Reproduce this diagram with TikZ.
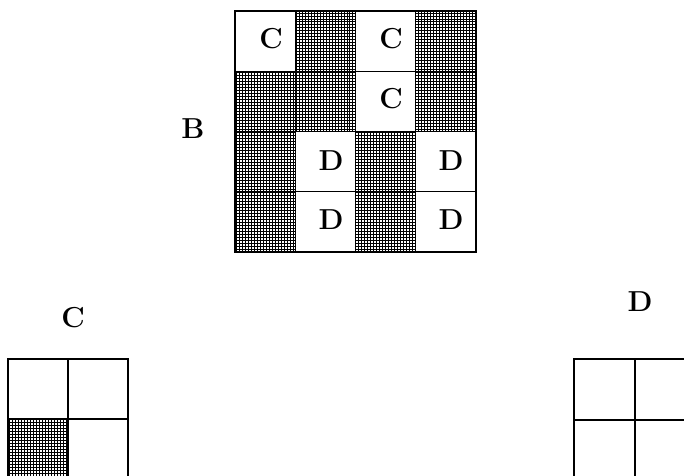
\documentclass[tikz,border=0pt]{standalone}
\usepackage{fontspec}
\usetikzlibrary{patterns}

\begin{document}
\begin{tikzpicture}[x=1bp, y=-1bp,
    hatch/.style={pattern=grid},
    outer/.style={line width=1.4pt},
    inner/.style={line width=1.1pt},
    lbl/.style={font=\fontsize{29pt}{34pt}\selectfont\bfseries, inner sep=0pt},
]
\useasboundingbox (0,0) rectangle (684,476);
\clip (0,0) rectangle (684,476);

% block B, 4x4
\foreach \c/\r in {1/0,3/0,0/1,1/1,3/1,0/2,2/2,0/3,2/3}
  \fill[hatch] (235+60.25*\c,11+60.25*\r) rectangle ++(60.25,60.25);
\foreach \i in {1,2,3} {
  \draw[inner] (235+60.25*\i,11) -- ++(0,241);
  \draw[inner] (235,11+60.25*\i) -- ++(241,0);
}
\draw[outer] (235,11) rectangle (476,252);
\node[lbl] (labB) at (193,129) {B};
\node[lbl] (bC1) at (271,39) {C};
\node[lbl] (bC2) at (391,39) {C};
\node[lbl] (bC3) at (391,99) {C};
\node[lbl] (bD1) at (331,161) {D};
\node[lbl] (bD2) at (451,161) {D};
\node[lbl] (bD3) at (331,220) {D};
\node[lbl] (bD4) at (451,220) {D};

% block C, 2x2
\fill[hatch] (8,419) rectangle (68,479);
\draw[inner] (68,359) -- (68,479);
\draw[inner] (8,419) -- (128,419);
\draw[outer] (8,359) rectangle (128,479);
\node[lbl] (labC) at (73,318) {C};

% block D, 2x2
\draw[inner] (635,359) -- (635,479);
\draw[inner] (574,420) -- (695,420);
\draw[outer] (574,359) rectangle (695,479);
\node[lbl] (labD) at (640,302) {D};
\end{tikzpicture}
\end{document}
